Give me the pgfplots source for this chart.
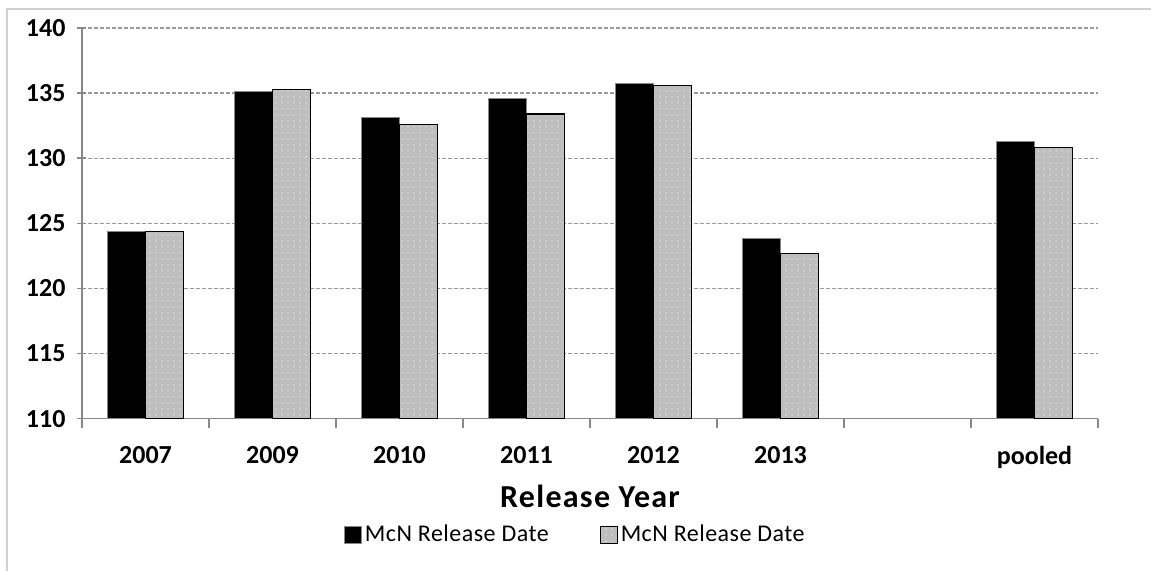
\documentclass[border=0pt]{standalone}
\usepackage{pgfplots}
\pgfplotsset{compat=1.18}
\usepackage{fontspec}
\setmainfont{Carlito}
\usetikzlibrary{patterns}
\definecolor{gridgray}{HTML}{9A9A9A}
\definecolor{axgray}{HTML}{888888}
\definecolor{bargray}{HTML}{BEBEBE}
\definecolor{dotgray}{HTML}{D6D6D6}
\definecolor{framegray}{HTML}{D0D0D0}
\begin{document}
\begin{tikzpicture}[x=1pt,y=1pt]
\useasboundingbox (0,0) rectangle (575.5,285.5);
\draw[framegray, line width=1pt] (3.5,-5) -- (3.5,281.2) -- (580,281.2);
\begin{axis}[
  at={(41pt,76.2pt)}, anchor=south west,
  scale only axis, width=508pt, height=195.3pt,
  ymin=110, ymax=140, ytick={110,115,...,140},
  xmin=-0.5, xmax=7.5,
  xtick={0,...,7}, xticklabels={2007,2009,2010,2011,2012,2013,,pooled},
  minor xtick={-0.5,0.5,...,7.5},
  major x tick style={draw=none},
  minor x tick style={axgray, line width=0.75pt},
  minor tick length=4.5pt,
  major tick length=4.5pt,
  tick align=outside,
  axis x line=bottom, axis y line=left,
  axis line style={axgray, line width=0.75pt, -},
  y tick style={axgray, line width=0.75pt},
  ymajorgrids,
  major grid style={gridgray, line width=0.6pt, dash pattern=on 2pt off 1pt},
  /pgf/number format/assume math mode=true,
  ticklabel style={font=\bfseries\fontsize{13}{15}\selectfont},
  xticklabel style={yshift=-6pt},
  yticklabel style={xshift=-2.5pt},
  xlabel={Release Year},
  xlabel style={font=\bfseries\fontsize{16}{18}\selectfont\addfontfeatures{LetterSpace=4}, at={(axis description cs:0.5,-0.198)}, anchor=center},
  ybar=0pt, bar width=19pt,
  legend columns=2,
  legend style={at={(0.486,-0.298)}, anchor=center, draw=none, fill=none,
    font=\fontsize{12}{14}\selectfont\addfontfeatures{LetterSpace=2},
    /tikz/every even column/.append style={column sep=24pt},
    nodes={inner sep=1.5pt}},
  legend image code/.code={\draw[#1, line width=0.5pt] (0pt,-4.25pt) rectangle (8.5pt,4.25pt);},
]
\addplot[fill=black, draw=axgray, line width=0.5pt] coordinates {
  (0,124.4) (1,135.1) (2,133.1) (3,134.6) (4,135.7) (5,123.8) (7,131.3)};
\addplot[fill=bargray, draw=black, line width=0.6pt, postaction={pattern=dots, pattern color=dotgray}] coordinates {
  (0,124.4) (1,135.3) (2,132.6) (3,133.4) (4,135.6) (5,122.7) (7,130.8)};
\legend{McN Release Date, McN Release Date}
\end{axis}
\end{tikzpicture}
\end{document}
